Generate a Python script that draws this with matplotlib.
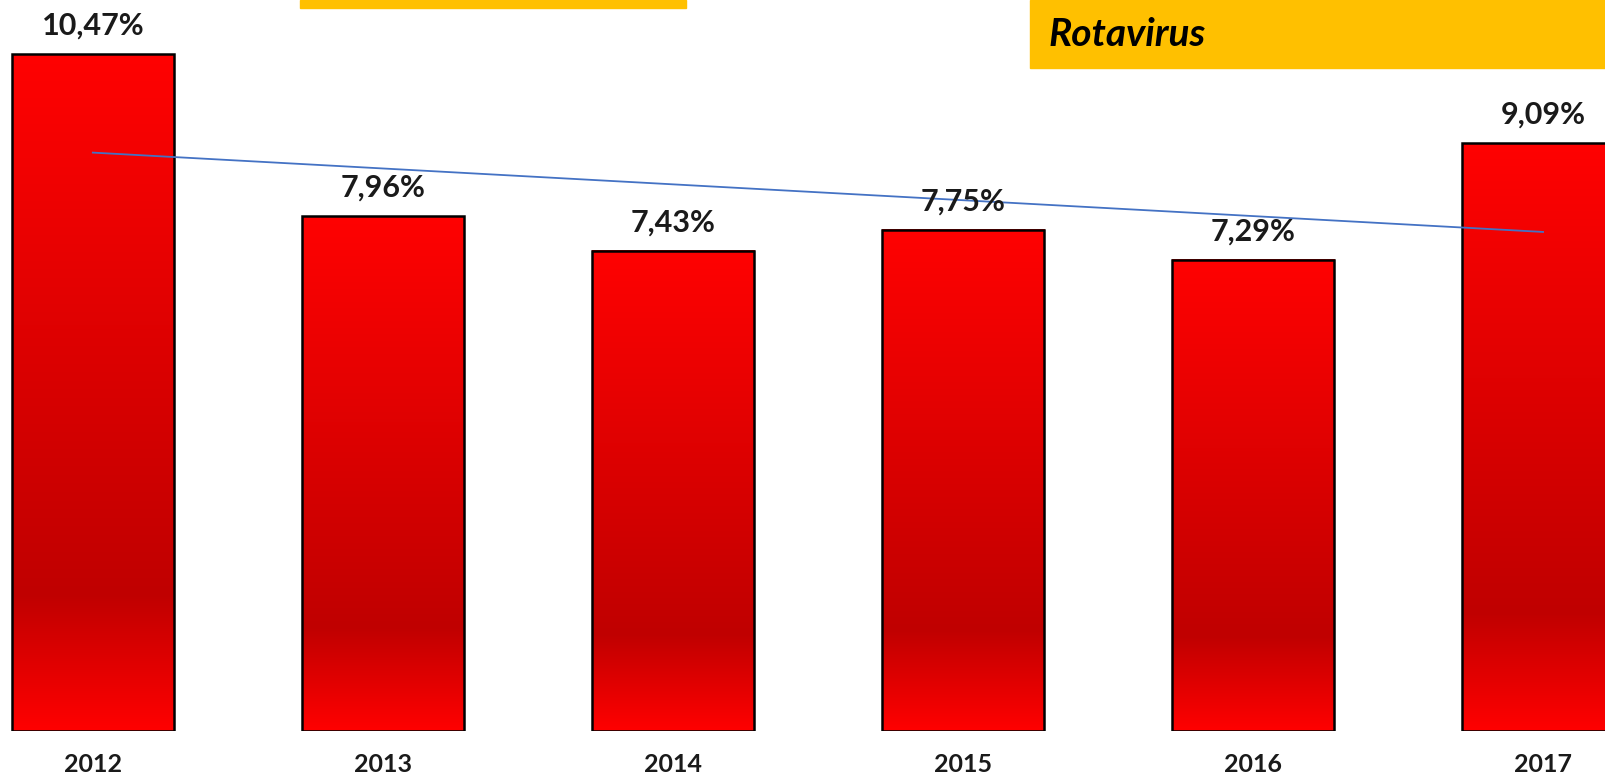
import matplotlib
matplotlib.use("Agg")
import matplotlib.pyplot as plt
import numpy as np
from matplotlib.colors import LinearSegmentedColormap
from matplotlib.patches import Rectangle

years = ['2012', '2013', '2014', '2015', '2016', '2017']
values = [10.47, 7.96, 7.43, 7.75, 7.29, 9.09]
labels = ['10,47%', '7,96%', '7,43%', '7,75%', '7,29%', '9,09%']
title = 'Rotavirus'

W, H = 1606, 779
fig = plt.figure(figsize=(W / 100, H / 100), dpi=100)
ax = fig.add_axes([0, 48 / H, 1, 731 / H])

x = np.arange(len(years))
width = 0.56

# gradient: bright red top -> dark red ~80% down -> bright red bottom
cmap = LinearSegmentedColormap.from_list(
    'redgrad', [(0, '#ff0000'), (0.2, '#c00000'), (1.0, '#ff0202')])
grad = np.linspace(0, 1, 256).reshape(-1, 1)

bars = ax.bar(x, values, width=width, color='none', edgecolor='black',
              linewidth=1.8, zorder=3)
for b in bars:
    x0, w, h = b.get_x(), b.get_width(), b.get_height()
    ax.imshow(grad, cmap=cmap, extent=[x0, x0 + w, 0, h], aspect='auto',
              origin='lower', zorder=2, interpolation='bilinear')

# linear trend line
k, c = np.polyfit(x, values, 1)
ax.plot(x, k * x + c, color='#4472c4', linewidth=1.3, zorder=4)

for xi, v, lab in zip(x, values, labels):
    ax.text(xi, v + 0.44, lab, ha='center', va='center', fontsize=22,
            fontweight='bold', family='Lato', color='#1a1a1a', zorder=5)

ax.set_xlim(-0.32, 5.217)
ax.set_ylim(0, 731 / 64.66)
ax.set_xticks(x)
ax.set_xticklabels(years, fontsize=18, fontweight='bold', family='Lato',
                   color='#1a1a1a')
ax.tick_params(axis='x', length=0, pad=16)
ax.set_yticks([])
for s in ax.spines.values():
    s.set_visible(False)

# yellow header boxes
fig.patches.append(Rectangle((300 / W, 1 - 8 / H), 386 / W, 8 / H,
                             transform=fig.transFigure, color='#ffc000', zorder=0))
fig.patches.append(Rectangle((1030 / W, 1 - 68 / H), 576 / W, 68 / H,
                             transform=fig.transFigure, color='#ffc000', zorder=0))
fig.text(1049 / W, 1 - 35 / H, title, ha='left', va='center', fontsize=28,
         fontweight='bold', fontstyle='italic', family='Lato', color='black')

fig.savefig('out.png', dpi=100)
